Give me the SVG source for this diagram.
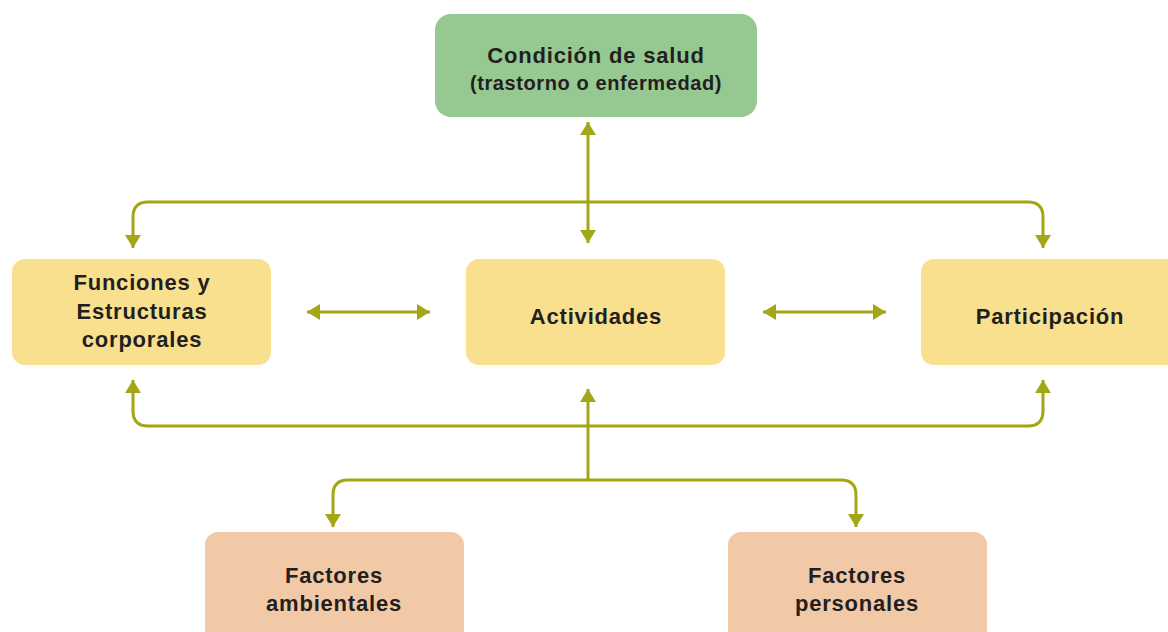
<svg xmlns="http://www.w3.org/2000/svg" width="1168" height="632" viewBox="0 0 1168 632">
<style>
.t{font-family:"Liberation Sans",Arial,sans-serif;font-weight:bold;font-size:22px;letter-spacing:0.8px;fill:#231f20;text-anchor:middle}
.s{font-size:20px;letter-spacing:0.6px}
.c{fill:none;stroke:#a3a615;stroke-width:3}
.g{fill:#95c991}
.y{fill:#f8e08f}
.p{fill:#f1c9a7}
</style>
<defs>
<marker id="ah" viewBox="0 0 13 16" refX="13" refY="8" markerWidth="13" markerHeight="16" markerUnits="userSpaceOnUse" orient="auto-start-reverse">
<path d="M0,0 L13,8 L0,16 z" fill="#a3a615"/>
</marker>
</defs>
<rect width="1168" height="632" fill="#ffffff"/>
<g id="connectors">
<path class="c" d="M588,122 V243" marker-start="url(#ah)" marker-end="url(#ah)"/>
<path class="c" d="M133,248 V217 Q133,202 148,202 H1028 Q1043,202 1043,217 V248" marker-start="url(#ah)" marker-end="url(#ah)"/>
<path class="c" d="M133,380 V411 Q133,426 148,426 H1028 Q1043,426 1043,411 V380" marker-start="url(#ah)" marker-end="url(#ah)"/>
<path class="c" d="M588,480 V389" marker-end="url(#ah)"/>
<path class="c" d="M333,527 V495 Q333,480 348,480 H841 Q856,480 856,495 V527" marker-start="url(#ah)" marker-end="url(#ah)"/>
<path class="c" d="M307,312 H430" marker-start="url(#ah)" marker-end="url(#ah)"/>
<path class="c" d="M763,312 H886" marker-start="url(#ah)" marker-end="url(#ah)"/>
</g>
<g id="condicion">
<rect class="g" x="435" y="14" width="322" height="103" rx="16"/>
<text class="t" x="596" y="63">Condición de salud</text>
<text class="t s" x="596" y="90">(trastorno o enfermedad)</text>
</g>
<g id="funciones">
<rect class="y" x="12" y="259" width="259" height="106" rx="13"/>
<text class="t" x="142" y="290">Funciones y</text>
<text class="t" x="142" y="319">Estructuras</text>
<text class="t" x="142" y="347">corporales</text>
</g>
<g id="actividades">
<rect class="y" x="466" y="259" width="259" height="106" rx="13"/>
<text class="t" x="596" y="324">Actividades</text>
</g>
<g id="participacion">
<rect class="y" x="921" y="259" width="262" height="106" rx="13"/>
<text class="t" x="1050" y="324">Participación</text>
</g>
<g id="ambientales">
<rect class="p" x="205" y="532" width="259" height="115" rx="13"/>
<text class="t" x="334" y="583">Factores</text>
<text class="t" x="334" y="611">ambientales</text>
</g>
<g id="personales">
<rect class="p" x="728" y="532" width="259" height="115" rx="13"/>
<text class="t" x="857" y="583">Factores</text>
<text class="t" x="857" y="611">personales</text>
</g>
</svg>
